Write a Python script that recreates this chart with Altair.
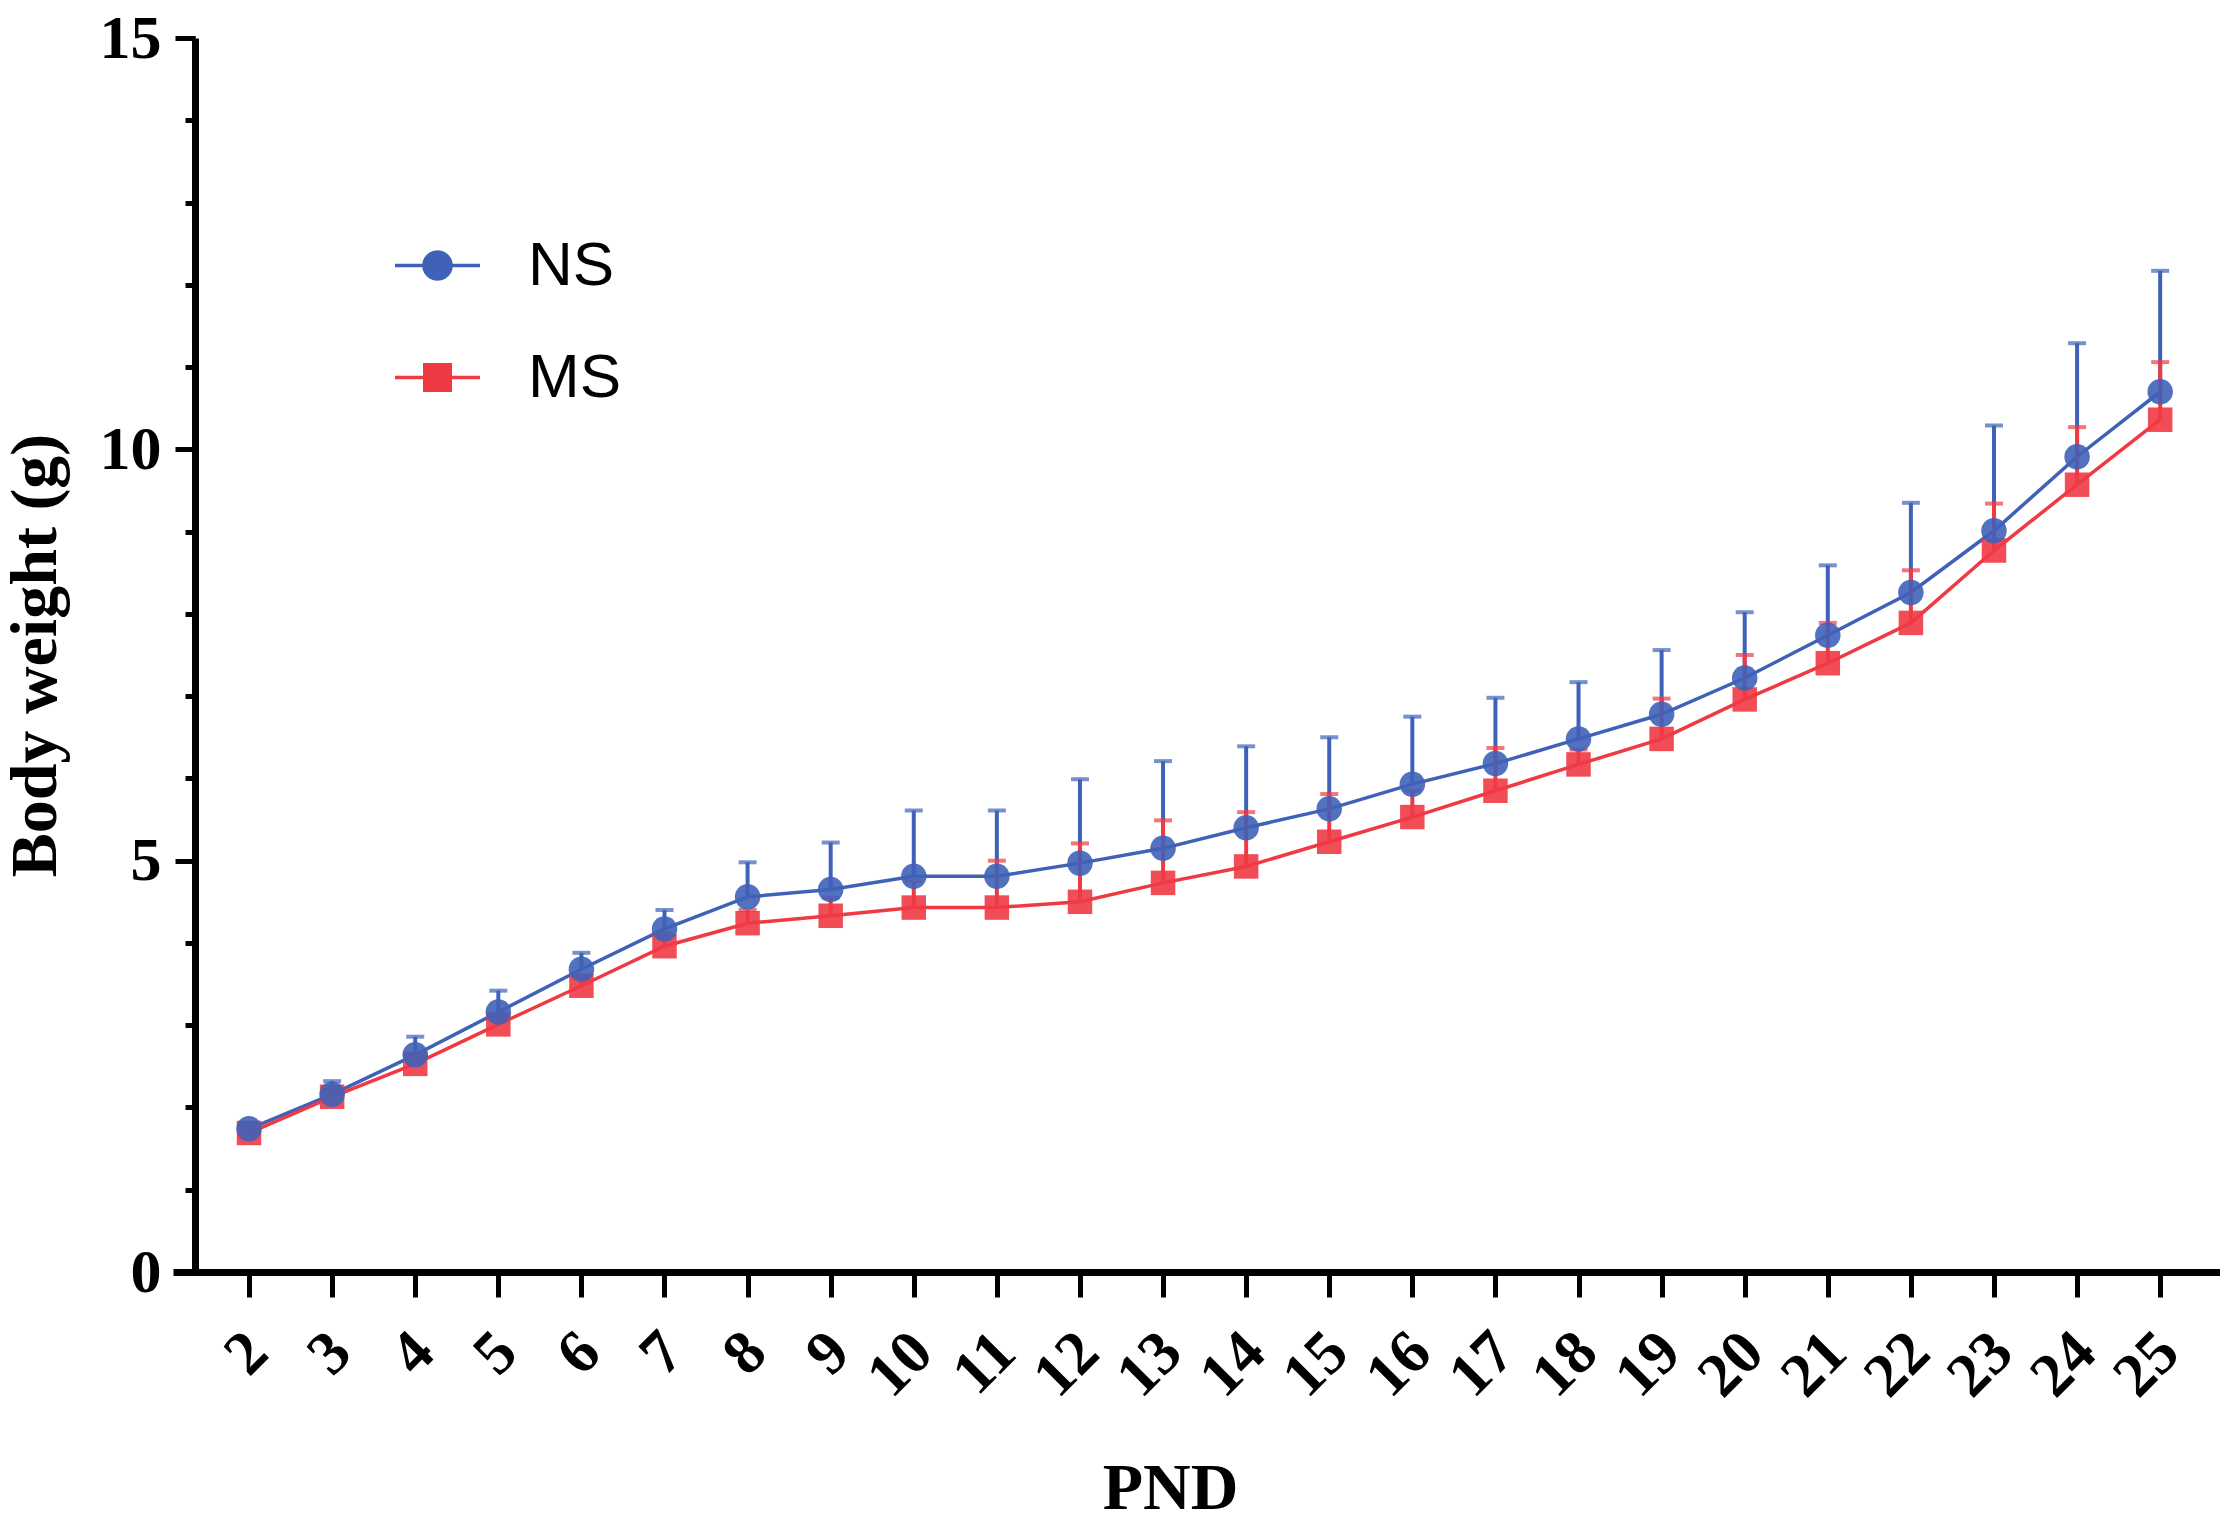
import math
import altair as alt
import pandas as pd

pnd = list(range(2, 26))
ns_mean = [1.74, 2.16, 2.64, 3.16, 3.68, 4.17, 4.56, 4.65, 4.81, 4.81, 4.97, 5.15,
           5.40, 5.63, 5.93, 6.18, 6.48, 6.78, 7.22, 7.74, 8.26, 9.01, 9.91, 10.70]
ns_upper = [1.80, 2.32, 2.86, 3.42, 3.88, 4.40, 4.98, 5.22, 5.61, 5.61, 5.99, 6.21,
            6.39, 6.50, 6.75, 6.98, 7.17, 7.56, 8.02, 8.59, 9.35, 10.29, 11.29, 12.17]
ms_mean = [1.69, 2.13, 2.53, 3.01, 3.48, 3.96, 4.24, 4.33, 4.43, 4.43, 4.50, 4.73,
           4.93, 5.23, 5.53, 5.85, 6.17, 6.48, 6.96, 7.40, 7.89, 8.77, 9.57, 10.36]
ms_upper = [1.75, 2.22, 2.65, 3.12, 3.60, 4.12, 4.40, 4.55, 4.75, 5.00, 5.21, 5.49,
            5.59, 5.81, 5.85, 6.37, 6.35, 6.97, 7.50, 7.89, 8.53, 9.34, 10.27, 11.06]
groups = ["NS", "MS"]
colors = ["#3F62B8", "#EF3A44"]
y_major = [0, 5, 10, 15]
y_minor = list(range(0, 16))

rows = []
for i, p in enumerate(pnd):
    rows.append({"pnd": p, "group": "NS", "mean": ns_mean[i], "upper": ns_upper[i]})
for i, p in enumerate(pnd):
    rows.append({"pnd": p, "group": "MS", "mean": ms_mean[i], "upper": ms_upper[i]})
df = pd.DataFrame(rows)

SERIF = "Liberation Serif"
SANS = "Liberation Sans"

x_scale = alt.Scale(domain=[1.085, 25.72], nice=False, zero=False)
y_scale = alt.Scale(domain=[0, 15], nice=False)
# mark colours (domain order differs from the legend scales on purpose)
color_scale = alt.Scale(domain=groups[::-1], range=colors[::-1])

x_axis = alt.Axis(
    values=pnd, title="PND", tickSize=25, tickWidth=5, tickColor="black",
    domainWidth=7, domainColor="black", labelAngle=315, labelAlign="right",
    labelBaseline="middle", labelPadding=45, labelOffset=8,
    labelFont=SERIF, labelFontWeight="bold", labelFontSize=62, labelColor="black",
    labelOverlap=False, labelFlush=False, grid=False,
    titleFont=SERIF, titleFontWeight="bold", titleFontSize=66, titleColor="black",
    titleX=997, titleY=236, titleBaseline="alphabetic", titleAlign="center",
)
y_axis_main = alt.Axis(
    values=y_major, title="Body weight (g)", orient="left", offset=-22,
    tickSize=20, tickWidth=5, tickColor="black", domainWidth=7, domainColor="black",
    labelFont=SERIF, labelFontWeight="bold", labelFontSize=62, labelColor="black",
    labelPadding=14, grid=False,
    titleFont=SERIF, titleFontWeight="bold", titleFontSize=66, titleColor="black",
    titlePadding=30,
)
y_axis_minor = alt.Axis(
    values=y_minor, title="", orient="left", offset=-22, tickSize=10, tickWidth=5,
    tickColor="black", labels=False, domain=False, grid=False,
)

base = alt.Chart(df)
color_enc = alt.Color("group:N", scale=color_scale, legend=None)

lines = base.mark_line(strokeWidth=3.5).encode(
    x=alt.X("pnd:Q", scale=x_scale, axis=x_axis),
    y=alt.Y("mean:Q", scale=y_scale, axis=y_axis_main),
    color=color_enc,
    detail="group:N",
)
err = base.mark_rule(strokeWidth=4).encode(
    x=alt.X("pnd:Q", scale=x_scale, axis=x_axis),
    y=alt.Y("mean:Q", scale=y_scale, axis=y_axis_minor),
    y2="upper:Q",
    color=color_enc,
)
caps = base.mark_tick(orient="horizontal", size=18, thickness=4).encode(
    x=alt.X("pnd:Q", scale=x_scale, axis=x_axis),
    y=alt.Y("upper:Q", scale=y_scale, axis=None),
    color=color_enc,
)
ms_pts = base.transform_filter(alt.datum.group == "MS").mark_point(
    shape="square", filled=True, size=600, opacity=0.9
).encode(
    x=alt.X("pnd:Q", scale=x_scale, axis=x_axis),
    y=alt.Y("mean:Q", scale=y_scale, axis=None),
    color=color_enc,
)
ns_pts = base.transform_filter(alt.datum.group == "NS").mark_point(
    shape="circle", filled=True, size=650, opacity=0.9
).encode(
    x=alt.X("pnd:Q", scale=x_scale, axis=x_axis),
    y=alt.Y("mean:Q", scale=y_scale, axis=None),
    color=color_enc,
)

# legend glyphs: a short line with the marker in its middle (polygon circle)
r = 0.32
circ = "M" + "L".join(
    f"{r * math.cos(2 * math.pi * k / 24):.3f},{r * math.sin(2 * math.pi * k / 24):.3f}"
    for k in range(24)
) + "Z"
legend_shapes = [
    "M-1,0L1,0" + circ,
    "M-1,0L1,0M-0.3,-0.3L0.3,-0.3L0.3,0.3L-0.3,0.3Z",
]
leg = alt.Legend(
    orient="none", legendX=220, legendY=183, padding=0,
    symbolSize=7225, symbolStrokeWidth=3.5, rowPadding=36, labelOffset=46,
    labelFont=SANS, labelFontSize=62, labelColor="black",
    symbolOpacity=1,
)
legend_layer = base.transform_filter("false").mark_point(filled=True, strokeWidth=3.5).encode(
    shape=alt.Shape("group:N", title="", scale=alt.Scale(domain=groups, range=legend_shapes), legend=leg),
    fill=alt.Fill("group:N", title="", scale=alt.Scale(domain=groups, range=colors), legend=leg),
    stroke=alt.Stroke("group:N", title="", scale=alt.Scale(domain=groups, range=colors), legend=leg),
)

chart = alt.layer(lines, err, caps, ms_pts, ns_pts, legend_layer).resolve_axis(
    y="independent"
).properties(
    width=2047, height=1234,
    autosize=alt.AutoSizeParams(type="none"),
    padding={"left": 165, "top": 30, "right": 0, "bottom": 250},
).configure_view(strokeWidth=0)

chart.save("out.html", embed_options={"renderer": "svg", "actions": False})
